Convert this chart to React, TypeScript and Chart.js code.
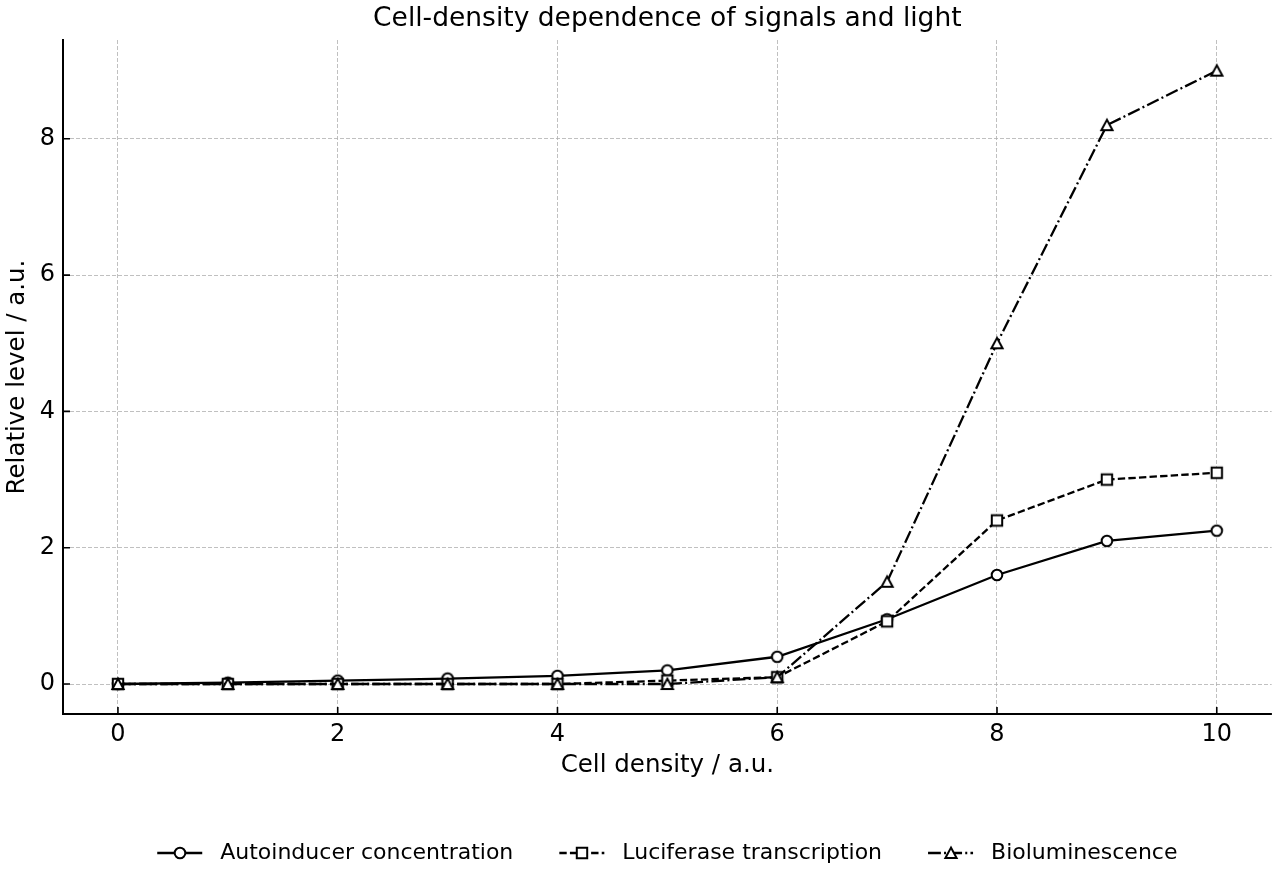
import { useEffect, useRef } from 'react';
import { Chart, registerables } from 'chart.js';

Chart.register(...registerables);

// Series values, one entry per cell-density step
const cellDensity = [0, 1, 2, 3, 4, 5, 6, 7, 8, 9, 10];
const autoinducer = [0, 0.02, 0.05, 0.08, 0.12, 0.2, 0.4, 0.95, 1.6, 2.1, 2.25];
const luciferase = [0, 0, 0, 0, 0, 0.05, 0.1, 0.92, 2.4, 3.0, 3.1];
const bioluminescence = [0, 0, 0, 0, 0, 0, 0.1, 1.5, 5.0, 8.2, 9.0];
const seriesLabels = ['Autoinducer concentration', 'Luciferase transcription', 'Bioluminescence'];
const xTicks = [0, 2, 4, 6, 8, 10];
const yTicks = [0, 2, 4, 6, 8];

const FONT = '"DejaVu Sans", sans-serif';
const LINE_W = 2.3;
const MARKER_EDGE = 2;

type MarkerKind = 'circle' | 'square' | 'triangle';
type SeriesStyle = { dash: number[]; marker: MarkerKind };
const seriesStyles: SeriesStyle[] = [
  { dash: [], marker: 'circle' },
  { dash: [7.4, 3.2], marker: 'square' },
  { dash: [12.8, 3.2, 2, 3.2], marker: 'triangle' },
];

// Hollow marker drawn once onto a small canvas; used as pointStyle and in the legend
function makeMarker(kind: MarkerKind): HTMLCanvasElement {
  const size = 18;
  const c = document.createElement('canvas');
  c.width = size;
  c.height = size;
  const ctx = c.getContext('2d')!;
  const m = size / 2;
  ctx.beginPath();
  if (kind === 'circle') {
    ctx.arc(m, m, 5.3, 0, Math.PI * 2);
  } else if (kind === 'square') {
    ctx.rect(m - 5.2, m - 5.2, 10.4, 10.4);
  } else {
    ctx.moveTo(m, m - 5.4);
    ctx.lineTo(m - 5.6, m + 5.0);
    ctx.lineTo(m + 5.6, m + 5.0);
    ctx.closePath();
  }
  ctx.fillStyle = '#fff';
  ctx.fill();
  ctx.lineWidth = MARKER_EDGE;
  ctx.lineJoin = 'miter';
  ctx.strokeStyle = '#000';
  ctx.stroke();
  return c;
}

// Inward-pointing tick marks on the left and bottom spines
const innerTicks = {
  id: 'innerTicks',
  afterDraw(chart: Chart) {
    const { ctx, chartArea } = chart;
    const xs = chart.scales.x;
    const ys = chart.scales.y;
    ctx.save();
    ctx.strokeStyle = '#000';
    ctx.lineWidth = 1.6;
    ctx.setLineDash([]);
    ctx.beginPath();
    xs.ticks.forEach((t) => {
      const px = xs.getPixelForValue(t.value);
      ctx.moveTo(px, chartArea.bottom);
      ctx.lineTo(px, chartArea.bottom - 7);
    });
    ys.ticks.forEach((t) => {
      const py = ys.getPixelForValue(t.value);
      ctx.moveTo(chartArea.left, py);
      ctx.lineTo(chartArea.left + 7, py);
    });
    ctx.stroke();
    ctx.restore();
  },
};

// Legend row below the axes, with line-and-marker handles
const lineLegend = {
  id: 'lineLegend',
  afterDraw(chart: Chart) {
    const { ctx, chartArea } = chart;
    const handle = 45;
    const gap = 18;
    const spacing = 46;
    const y = 853;
    ctx.save();
    ctx.font = `22px ${FONT}`;
    ctx.textBaseline = 'middle';
    const ds = chart.data.datasets as any[];
    const labels = ds.map((d) => String(d.label));
    const widths = labels.map((l) => ctx.measureText(l).width);
    const total = widths.reduce((a, b) => a + b, 0) + labels.length * (handle + gap) + spacing * (labels.length - 1);
    let x = (chartArea.left + chartArea.right) / 2 - total / 2;
    labels.forEach((label, i) => {
      ctx.strokeStyle = '#000';
      ctx.lineWidth = LINE_W;
      ctx.setLineDash(seriesStyles[i].dash);
      ctx.beginPath();
      ctx.moveTo(x, y);
      ctx.lineTo(x + handle, y);
      ctx.stroke();
      ctx.setLineDash([]);
      const img = ds[i].pointStyle as HTMLCanvasElement;
      ctx.drawImage(img, Math.round(x + handle / 2 - img.width / 2), Math.round(y - img.height / 2));
      ctx.fillStyle = '#000';
      ctx.fillText(label, x + handle + gap, y);
      x += handle + gap + widths[i] + spacing;
    });
    ctx.restore();
  },
};

export default function App() {
  const canvasRef = useRef<HTMLCanvasElement | null>(null);

  useEffect(() => {
    if (!canvasRef.current) return;
    Chart.defaults.font.family = FONT;
    Chart.defaults.color = '#000';

    const seriesValues = [autoinducer, luciferase, bioluminescence];
    const datasets = seriesValues.map((vals, i) => ({
      label: seriesLabels[i],
      data: cellDensity.map((x, j) => ({ x, y: vals[j] })),
      borderColor: '#000',
      borderWidth: LINE_W,
      borderDash: seriesStyles[i].dash,
      pointStyle: makeMarker(seriesStyles[i].marker),
      pointRadius: 6,
      pointHoverRadius: 6,
      fill: false,
      tension: 0,
      order: 3 - i,
    }));

    const gridOpts = { color: '#b0b0b0', lineWidth: 0.8, drawTicks: false };
    const borderOpts = { display: true, color: '#000', width: 2, dash: [4, 2] };

    const chart = new Chart(canvasRef.current, {
      type: 'line',
      data: { datasets },
      plugins: [innerTicks, lineLegend],
      options: {
        animation: false,
        responsive: false,
        layout: { padding: { left: 0, right: 7, top: 0, bottom: 100 } },
        plugins: {
          legend: { display: false },
          tooltip: { enabled: false },
          title: {
            display: true,
            fullSize: false,
            text: 'Cell-density dependence of signals and light',
            font: { size: 26.5, weight: 'normal', family: FONT },
            color: '#000',
            padding: { top: 3, bottom: 5.2 },
          },
        },
        scales: {
          x: {
            type: 'linear',
            min: -0.5,
            max: 10.5,
            afterBuildTicks: (s: any) => {
              s.ticks = xTicks.map((v) => ({ value: v }));
            },
            afterFit: (s: any) => {
              s.height = 66;
            },
            grid: gridOpts,
            border: borderOpts,
            ticks: { padding: 6, font: { size: 24 }, color: '#000', callback: (v: any) => String(v) },
            title: {
              display: true,
              text: 'Cell density / a.u.',
              font: { size: 24.5 },
              color: '#000',
              padding: { top: 0, bottom: 0 },
            },
          },
          y: {
            type: 'linear',
            min: -0.44,
            max: 9.45,
            afterBuildTicks: (s: any) => {
              s.ticks = yTicks.map((v) => ({ value: v }));
            },
            afterFit: (s: any) => {
              s.width = 63;
            },
            grid: gridOpts,
            border: borderOpts,
            ticks: { padding: 8, font: { size: 24 }, color: '#000', callback: (v: any) => String(v) },
            title: {
              display: true,
              text: 'Relative level / a.u.',
              font: { size: 24.5 },
              color: '#000',
              padding: { top: 3.3, bottom: 0 },
            },
          },
        },
      },
    } as any);

    return () => chart.destroy();
  }, []);

  return (
    <div style={{ position: 'absolute', left: 0, top: 0, width: 1280, height: 880, background: '#fff' }}>
      <canvas ref={canvasRef} width={1280} height={880} />
    </div>
  );
}
